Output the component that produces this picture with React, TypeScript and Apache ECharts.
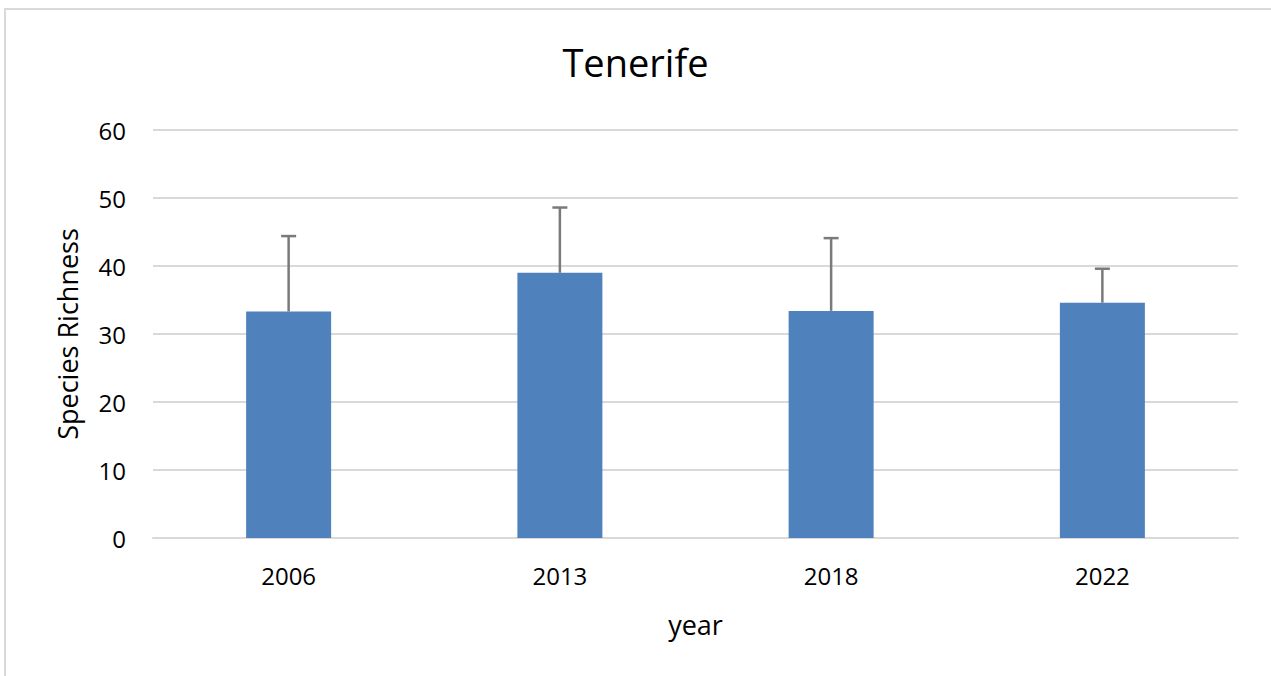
import React, { useEffect, useRef } from "react";
import * as echarts from "echarts";

const categories = ["2006", "2013", "2018", "2022"];
const means = [33.3, 39.0, 33.4, 34.6];
const errors = [11.1, 9.6, 10.7, 5.0];
const yTicks = { min: 0, max: 60, interval: 10 };

const FONT = "'Open Sans', 'Noto Sans', sans-serif";

export default function App() {
  const ref = useRef<HTMLDivElement>(null);
  useEffect(() => {
    if (!ref.current) return;
    const chart = echarts.init(ref.current, undefined, { renderer: "svg" });
    const errData = categories.map((c, i) => [i, means[i], means[i] + errors[i]]);
    chart.setOption({
      animation: false,
      backgroundColor: "#ffffff",
      title: {
        text: "Tenerife",
        left: "center",
        top: 38,
        textStyle: { fontFamily: FONT, fontSize: 38, fontWeight: "normal", color: "#000" },
      },
      graphic: [
        {
          type: "rect",
          shape: { x: 5, y: 9, width: 1400, height: 800 },
          style: { fill: "none", stroke: "#d9d9d9", lineWidth: 2 },
          silent: true,
        },
      ],
      grid: { left: 153, right: 33, top: 130, bottom: 138 },
      xAxis: {
        type: "category",
        data: categories,
        name: "year",
        nameLocation: "middle",
        nameGap: 73,
        nameTextStyle: { fontFamily: FONT, fontSize: 27, color: "#000" },
        axisLine: { show: true, lineStyle: { color: "#d9d9d9", width: 2 } },
        axisTick: { show: false },
        axisLabel: { fontFamily: FONT, fontSize: 24, color: "#000", margin: 25 },
      },
      yAxis: {
        type: "value",
        min: yTicks.min,
        max: yTicks.max,
        interval: yTicks.interval,
        name: "Species Richness",
        nameLocation: "middle",
        nameGap: 72,
        nameTextStyle: { fontFamily: FONT, fontSize: 27, color: "#000" },
        axisLine: { show: false },
        axisTick: { show: false },
        axisLabel: { fontFamily: FONT, fontSize: 24, color: "#000", margin: 27 },
        splitLine: { lineStyle: { color: "#d9d9d9", width: 2 } },
      },
      series: [
        {
          type: "bar",
          data: means,
          barWidth: 85,
          itemStyle: { color: "#4f81bd" },
          z: 2,
        },
        {
          type: "custom",
          data: errData,
          z: 3,
          renderItem: (params: any, api: any) => {
            const x = api.value(0);
            const lo = api.coord([x, api.value(1)]);
            const hi = api.coord([x, api.value(2)]);
            const hw = 7.5;
            const style = { stroke: "#7a7a7a", lineWidth: 2.5 };
            return {
              type: "group",
              children: [
                { type: "line", shape: { x1: lo[0], y1: lo[1], x2: hi[0], y2: hi[1] }, style },
                { type: "line", shape: { x1: hi[0] - hw, y1: hi[1], x2: hi[0] + hw, y2: hi[1] }, style },
              ],
            };
          },
        },
      ],
    });
    return () => chart.dispose();
  }, []);
  return (
    <div
      ref={ref}
      style={{ position: "absolute", left: 0, top: 0, width: 1271, height: 676 }}
    />
  );
}
